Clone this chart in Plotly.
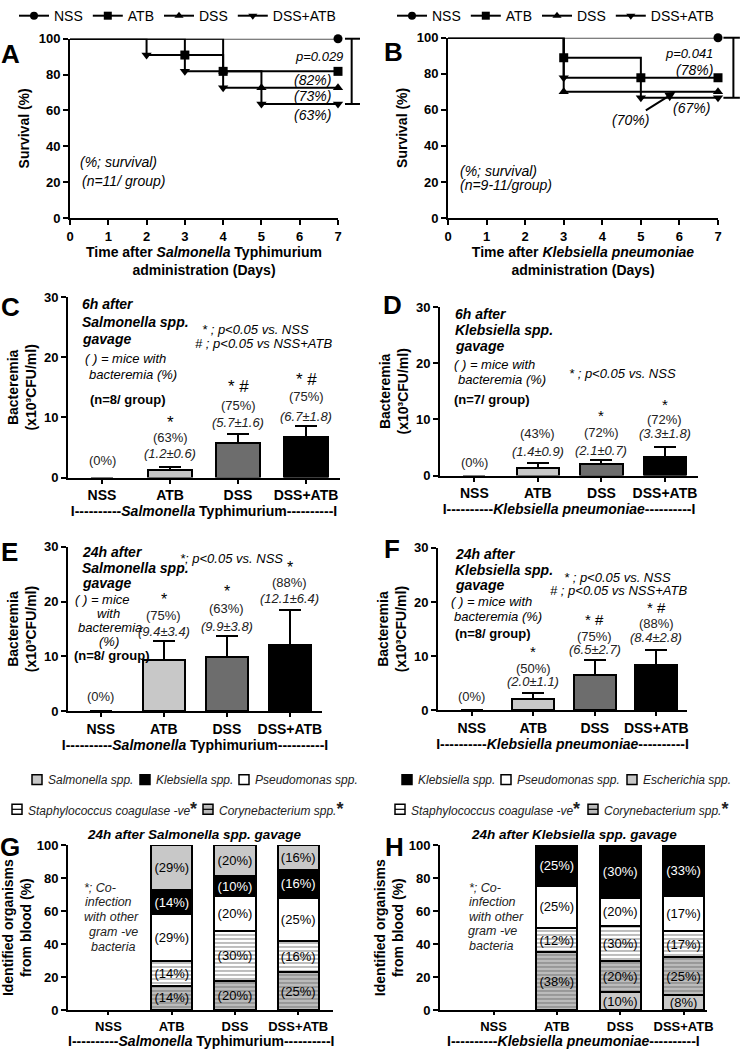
import plotly.graph_objects as go

W, H = 740, 1049
FONT = "Liberation Sans, Arial, Helvetica, sans-serif"

# ---------------- DATA ----------------
groups = ["NSS", "ATB", "DSS", "DSS+ATB"]

# A: survival after Salmonella Typhimurium (n = 11 / group)
A_NSS_day = [0, 7]
A_NSS_surv = [100, 100]
A_ATB_day = [0, 3, 4, 7]
A_ATB_surv = [100, 90.9, 81.8, 81.8]
A_DSS_day = [0, 4, 5, 7]
A_DSS_surv = [100, 81.8, 72.7, 72.7]
A_DA_day = [0, 2, 3, 4, 5, 7]
A_DA_surv = [100, 90.9, 81.8, 72.7, 63.6, 63.6]

# B: survival after Klebsiella pneumoniae (n = 9-11 / group)
B_NSS_day = [0, 7]
B_NSS_surv = [100, 100]
B_ATB_day = [0, 3, 5, 7]
B_ATB_surv = [100, 88.9, 77.8, 77.8]
B_DSS_day = [0, 3, 7]
B_DSS_surv = [100, 70.0, 70.0]
B_DA_day = [0, 3, 5, 7]
B_DA_surv = [100, 77.8, 66.7, 66.7]

# C-F: bacteremia (x10^3 CFU/ml), mean and SEM
C_mean = [0, 1.2, 5.7, 6.7]
C_sem = [0, 0.6, 1.6, 1.8]
C_pct = ["(0%)", "(63%)", "(75%)", "(75%)"]
C_sig = ["", "*", "* #", "* #"]

D_mean = [0, 1.4, 2.1, 3.3]
D_sem = [0, 0.9, 0.7, 1.8]
D_pct = ["(0%)", "(43%)", "(72%)", "(72%)"]
D_sig = ["", "", "*", "*"]

E_mean = [0, 9.4, 9.9, 12.1]
E_sem = [0, 3.4, 3.8, 6.4]
E_pct = ["(0%)", "(75%)", "(63%)", "(88%)"]
E_sig = ["", "*", "*", "*"]

F_mean = [0, 2.0, 6.5, 8.4]
F_sem = [0, 1.1, 2.7, 2.8]
F_pct = ["(0%)", "(50%)", "(75%)", "(88%)"]
F_sig = ["", "*", "* #", "* #"]

# G: identified organisms (%) after Salmonella gavage (bottom -> top)
G_coryne = [0, 15, 18, 23]
G_staph = [0, 15, 30, 19]
G_pseudo = [0, 28, 21, 26]
G_kleb = [0, 15, 12, 17]
G_salm = [0, 27, 19, 15]
G_coryne_lbl = [None, "(14%)", "(20%)", "(25%)"]
G_staph_lbl = [None, "(14%)", "(30%)", "(16%)"]
G_pseudo_lbl = [None, "(29%)", "(20%)", "(25%)"]
G_kleb_lbl = [None, "(14%)", "(10%)", "(16%)"]
G_salm_lbl = [None, "(29%)", "(20%)", "(16%)"]

# H: identified organisms (%) after Klebsiella gavage (bottom -> top)
H_esch = [0, 0, 11, 9]
H_coryne = [0, 35, 19, 23]
H_staph = [0, 15, 21, 16]
H_pseudo = [0, 25, 17, 21]
H_kleb = [0, 25, 32, 31]
H_esch_lbl = [None, None, "(10%)", "(8%)"]
H_coryne_lbl = [None, "(38%)", "(20%)", "(25%)"]
H_staph_lbl = [None, "(12%)", "(30%)", "(17%)"]
H_pseudo_lbl = [None, "(25%)", "(20%)", "(17%)"]
H_kleb_lbl = [None, "(25%)", "(30%)", "(33%)"]

# ---------------- LAYOUT CONSTANTS ----------------
geo = {1: (70, 338, 29, 210), 2: (448, 718, 28, 210), 3: (68, 340, 290, 472),
       4: (440, 698, 300, 470), 5: (68, 322, 542, 708), 6: (438, 687, 543, 707),
       7: (68, 333, 843, 1010), 8: (440, 707, 843, 1010)}
cat_range = {3: [-0.5, 3.5], 4: [-0.54, 3.52], 5: [-0.52, 3.51], 6: [-0.55, 3.5],
             7: [-0.64, 3.55], 8: [-0.845, 3.37]}
bar_w = {3: 0.66, 4: 0.67, 5: 0.67, 6: 0.68, 7: 0.65, 8: 0.65}
xtitle_standoff = {3: 2, 4: 2, 5: 1, 6: 1}

sym = {"NSS": "circle", "ATB": "square", "DSS": "triangle-up", "DSS+ATB": "triangle-down"}
bar_fill = ["white", "#c8c8c8", "#6d6d6d", "black"]

fig = go.Figure()


def axn(i, k):
    return k if i == 1 else f"{k}{i}"


def outline(vals):
    return [0 if v == 0 else 2 for v in vals]


# ---------- survival panels ----------
def km(days, surv, name, i, lcolor="black"):
    fig.add_trace(go.Scatter(x=days, y=surv, mode="lines",
                             line=dict(shape="hv", color=lcolor, width=2),
                             xaxis=axn(i, "x"), yaxis=axn(i, "y"),
                             showlegend=False, hoverinfo="skip", cliponaxis=False))
    fig.add_trace(go.Scatter(x=days[1:], y=surv[1:], mode="markers",
                             marker=dict(symbol=sym[name], size=9, color="black"),
                             xaxis=axn(i, "x"), yaxis=axn(i, "y"),
                             showlegend=False, cliponaxis=False))


km(A_NSS_day, A_NSS_surv, "NSS", 1, "#555555")
km(A_ATB_day, A_ATB_surv, "ATB", 1)
km(A_DSS_day, A_DSS_surv, "DSS", 1)
km(A_DA_day, A_DA_surv, "DSS+ATB", 1)
km(B_NSS_day, B_NSS_surv, "NSS", 2, "#555555")
km(B_ATB_day, B_ATB_surv, "ATB", 2)
km(B_DSS_day, B_DSS_surv, "DSS", 2)
km(B_DA_day, B_DA_surv, "DSS+ATB", 2)

for lg, i in (("legend", 1), ("legend2", 2)):
    for g in groups:
        fig.add_trace(go.Scatter(x=[None], y=[None], mode="lines+markers", name=g,
                                 marker=dict(symbol=sym[g], size=8, color="black"),
                                 line=dict(color="black", width=2),
                                 xaxis=axn(i, "x"), yaxis=axn(i, "y"), legend=lg))

# ---------- bacteremia bar panels ----------
for i, mean, sem in ((3, C_mean, C_sem), (4, D_mean, D_sem), (5, E_mean, E_sem), (6, F_mean, F_sem)):
    fig.add_trace(go.Bar(x=groups, y=mean, width=bar_w[i],
                         marker=dict(color=bar_fill, line=dict(color="black", width=outline(mean))),
                         error_y=dict(type="data", array=sem, arrayminus=[0] * len(sem), symmetric=False,
                                      color="black", thickness=2, width=11),
                         xaxis=axn(i, "x"), yaxis=axn(i, "y"), showlegend=False))

# ---------- stacked organism panels ----------
stripe_w = dict(shape="-", fgcolor="#222222", bgcolor="white", size=4, solidity=0.3)
stripe_g = dict(shape="-", fgcolor="#444444", bgcolor="#bcbcbc", size=4, solidity=0.3)
G_layers = [(G_coryne, G_coryne_lbl, "#bcbcbc", stripe_g, "black"),
            (G_staph, G_staph_lbl, "white", stripe_w, "black"),
            (G_pseudo, G_pseudo_lbl, "white", None, "black"),
            (G_kleb, G_kleb_lbl, "black", None, "white"),
            (G_salm, G_salm_lbl, "#c8c8c8", None, "black")]
H_layers = [(H_esch, H_esch_lbl, "#c8c8c8", None, "black"),
            (H_coryne, H_coryne_lbl, "#bcbcbc", stripe_g, "black"),
            (H_staph, H_staph_lbl, "white", stripe_w, "black"),
            (H_pseudo, H_pseudo_lbl, "white", None, "black"),
            (H_kleb, H_kleb_lbl, "black", None, "white")]
for i, layers in ((7, G_layers), (8, H_layers)):
    for vals, lbl, col, pat, tcol in layers:
        mk = dict(color=col, line=dict(color="black", width=outline(vals)))
        if pat:
            mk["pattern"] = pat
        fig.add_trace(go.Bar(x=groups, y=vals, width=bar_w[i], marker=mk, text=lbl,
                             textposition="inside", insidetextanchor="middle", constraintext="none",
                             textangle=0, textfont=dict(size=13, color=tcol, family=FONT),
                             xaxis=axn(i, "x"), yaxis=axn(i, "y"), showlegend=False))

# ---------- axes ----------
tickf = dict(family=FONT, size=13, color="black", weight="bold")
titf = dict(family=FONT, size=14, color="black", weight="bold")
base = dict(showline=True, linecolor="black", linewidth=2, ticks="outside", ticklen=5,
            tickwidth=2, tickcolor="black", showgrid=False, zeroline=False, tickfont=tickf,
            fixedrange=True, automargin=False)
lay = {}
for i, (x0, x1, yt, yb) in geo.items():
    xa = dict(base, domain=[x0 / W, x1 / W], anchor=axn(i, "y"))
    ya = dict(base, domain=[1 - yb / H, 1 - yt / H], anchor=axn(i, "x"))
    if i in (1, 2):
        xa.update(range=[0, 7], dtick=1, tick0=0)
        ya.update(range=[0, 100], dtick=20, title=dict(text="Survival (%)", font=titf, standoff=6))
    elif i in (3, 4, 5, 6):
        xa.update(type="category", range=cat_range[i], tickfont=dict(tickf, size=14), ticklen=4)
        ya.update(range=[0, 30], dtick=10,
                  title=dict(text="Bacteremia<br>(x10³CFU/ml)", font=titf, standoff=4))
    else:
        xa.update(type="category", range=cat_range[i], tickfont=dict(tickf, size=13), ticklen=3)
        ya.update(range=[0, 100], dtick=20,
                  title=dict(text="Identified organisms<br>from blood (%)", font=titf, standoff=2))
    lay[f"xaxis{'' if i == 1 else i}"] = xa
    lay[f"yaxis{'' if i == 1 else i}"] = ya

lay["xaxis"]["title"] = dict(text="Time after <i>Salmonella</i> Typhimurium<br>administration (Days)", font=titf, standoff=2)
lay["xaxis2"]["title"] = dict(text="Time after <i>Klebsiella pneumoniae</i><br>administration (Days)", font=titf, standoff=2)
sal_lbl = "I----------<i>Salmonella</i> Typhimurium----------I"
kle_lbl = "I----------<i>Klebsiella pneumoniae</i>----------I"
for i, t in ((3, sal_lbl), (4, kle_lbl), (5, sal_lbl), (6, kle_lbl)):
    lay[f"xaxis{i}"]["title"] = dict(text=t, font=titf, standoff=xtitle_standoff[i])

# ---------- annotations ----------
ann = []


def T(text, x, y, size=13, anchor="left", color="black", angle=0):
    ann.append(dict(text=text, x=x / W, y=1 - y / H, xref="paper", yref="paper", xanchor=anchor,
                    yanchor="middle", showarrow=False, textangle=angle,
                    font=dict(family=FONT, size=size, color=color)))


# group labels under panels G and H (placed in their x-axis domain)
for i, t in ((7, sal_lbl), (8, kle_lbl)):
    ann.append(dict(text=f"<b>{t}</b>", x=0.5, y=1 - 1041 / H, xref=f"x{i} domain", yref="paper",
                    xanchor="center", yanchor="middle", showarrow=False,
                    font=dict(family=FONT, size=14, color="black")))

# panel letters
for L, x, y in (("A", 10, 44), ("B", 393, 42), ("C", 10, 300), ("D", 392, 298),
                ("E", 9, 547), ("F", 392, 544), ("G", 10, 845), ("H", 394, 845)):
    T(f"<b>{L}</b>", x, y, 26, "center")

# A texts
T("<i>p=0.029</i>", 345, 47, 13, "right")
T("<i>(82%)</i>", 333, 71, 14, "right")
T("<i>(73%)</i>", 333, 87, 14, "right")
T("<i>(63%)</i>", 333, 106, 14, "right")
T("<i>(%; survival)</i>", 78, 153, 14)
T("<i>(n=11/ group)</i>", 80, 173, 14)
# B texts
T("<i>p=0.041</i>", 715, 44, 13, "right")
T("<i>(78%)</i>", 715, 61, 14, "right")
T("<i>(67%)</i>", 712, 99, 14, "right")
T("<i>(%; survival)</i>", 458, 163, 14)
T("<i>(n=9-11/group)</i>", 458, 177, 14)
ann.append(dict(text="<i>(70%)</i>", x=5.9, y=B_DSS_surv[-1], xref="x2", yref="y2", ax=-45, ay=28,
                showarrow=True, arrowhead=2, arrowsize=1, arrowwidth=2, arrowcolor="black",
                font=dict(family=FONT, size=14, color="black")))

# C texts
T("<b><i>6h after</i></b>", 80, 297, 14)
T("<b><i>Salmonella spp.</i></b>", 80, 315, 14)
T("<b><i>gavage</i></b>", 80, 332, 14)
T("<i>( ) = mice with</i>", 83, 352, 13)
T("<i>bacteremia (%)</i>", 87, 368, 13)
T("<b>(n=8/ group)</b>", 88, 393, 13)
T("<i>* ; p&lt;0.05 vs. NSS</i>", 200, 323, 13)
T("<i># ; p&lt;0.05 vs NSS+ATB</i>", 193, 337, 13)
# D texts
T("<b><i>6h after</i></b>", 453, 307, 14)
T("<b><i>Klebsiella spp.</i></b>", 453, 323, 14)
T("<b><i>gavage</i></b>", 453, 339, 14)
T("<i>( ) = mice with</i>", 452, 358, 13)
T("<i>bacteremia (%)</i>", 456, 373, 13)
T("<b>(n=7/ group)</b>", 452, 393, 13)
T("<i>* ; p&lt;0.05 vs. NSS</i>", 567, 367, 13)
# E texts
T("<b><i>24h after</i></b>", 80, 547, 14)
T("<b><i>Salmonella spp.</i></b>", 80, 563, 14)
T("<b><i>gavage</i></b>", 80, 579, 14)
T("<i>( ) = mice</i>", 102, 595, 13, "center")
T("<i>with</i>", 108, 609, 13, "center")
T("<i>bacteremia</i>", 110, 623, 13, "center")
T("<i>(%)</i>", 109, 638, 13, "center")
T("<b>(n=8/ group)</b>", 72, 652, 13)
T("<i>*; p&lt;0.05 vs. NSS</i>", 178, 554, 13)
# F texts
T("<b><i>24h after</i></b>", 453, 549, 14)
T("<b><i>Klebsiella spp.</i></b>", 453, 565, 14)
T("<b><i>gavage</i></b>", 453, 581, 14)
T("<i>( ) = mice with</i>", 449, 597, 13)
T("<i>bacteremia (%)</i>", 452, 612, 13)
T("<b>(n=8/ group)</b>", 453, 629, 13)
T("<i>* ; p&lt;0.05 vs. NSS</i>", 562, 573, 13)
T("<i># ; p&lt;0.05 vs NSS+ATB</i>", 548, 586, 13)

# labels above bars (data coordinates)
above = {3: (C_mean, C_sem, C_pct, C_sig, [None, 9.1, 15.2, 16.3], [2.8, 6.6, 12.0, 13.4], [None, 4.0, 9.1, 10.2], 17),
         4: (D_mean, D_sem, D_pct, D_sig, [None, None, 10.7, 12.7], [2.35, 7.5, 7.6, 10.0], [None, 4.2, 4.4, 7.4], 15),
         5: (E_mean, E_sem, E_pct, E_sig, [None, 20.4, 21.9, 26.2], [2.7, 17.4, 18.8, 23.5], [None, 14.6, 15.5, 20.6], 16),
         6: (F_mean, F_sem, F_pct, F_sig, [None, 10.8, 16.8, 19.0], [2.6, 7.7, 13.7, 16.1], [None, 5.3, 11.3, 13.5], 15)}
for i, (mean, sem, pct, sig, ys, yp, yv, ssz) in above.items():
    for k, g in enumerate(groups):
        common = dict(x=g, xref=axn(i, "x"), yref=axn(i, "y"), showarrow=False, yanchor="middle")
        if sig[k] and ys[k] is not None:
            ann.append(dict(common, y=ys[k], text=sig[k], font=dict(family=FONT, size=ssz, color="black")))
        ann.append(dict(common, y=yp[k], text=pct[k], font=dict(family=FONT, size=13, color="#222222")))
        if mean[k] > 0:
            ann.append(dict(common, y=yv[k], text=f"<i>({mean[k]:.1f}±{sem[k]:.1f})</i>",
                            font=dict(family=FONT, size=13, color="#222222")))

# G / H side notes and titles
for lines in (((100, 886, "*; Co-"), (108, 901, "infection"), (111, 916, "with other"),
               (113, 931, "gram -ve"), (113, 946, "bacteria")),
              ((485, 886, "*; Co-"), (492, 901, "infection"), (496, 916, "with other"),
               (492, 930, "gram -ve"), (491, 945, "bacteria"))):
    for x, y, t in lines:
        T(f"<i>{t}</i>", x, y, 12.5, "center", "#222222")
T("<b><i>24h after Salmonella spp. gavage</i></b>", 194, 832, 13.5, "center")
T("<b><i>24h after Klebsiella spp. gavage</i></b>", 574, 832, 13.5, "center")

# manual legends for G / H
shapes = []


def box(x, y, fill, striped, text):
    shapes.append(dict(type="rect", xref="paper", yref="paper", x0=x / W, x1=(x + 10) / W,
                       y0=1 - (y + 5) / H, y1=1 - (y - 5) / H, fillcolor=fill,
                       line=dict(color="black", width=1.5)))
    if striped:
        shapes.append(dict(type="line", xref="paper", yref="paper", x0=x / W, x1=(x + 10) / W,
                           y0=1 - y / H, y1=1 - y / H, line=dict(color="black", width=1.2)))
    T(text, x + 14, y, 12, "left", "#222222")


STAR = "<b><span style='font-size:18px'>*</span></b>"
box(32, 777, "#c8c8c8", False, "<i>Salmonella spp.</i>")
box(140, 777, "black", False, "<i>Klebsiella spp.</i>")
box(239, 777, "white", False, "<i>Pseudomonas spp.</i>")
box(12, 807, "white", True, "<i>Staphylococcus coagulase -ve</i>" + STAR)
box(203, 807, "#bcbcbc", True, "<i>Corynebacterium spp.</i>" + STAR)
box(402, 777, "black", False, "<i>Klebsiella spp.</i>")
box(501, 777, "white", False, "<i>Pseudomonas spp.</i>")
box(627, 777, "#c8c8c8", False, "<i>Escherichia spp.</i>")
box(395, 807, "white", True, "<i>Staphylococcus coagulase -ve</i>" + STAR)
box(588, 807, "#bcbcbc", True, "<i>Corynebacterium spp.</i>" + STAR)

# survival brackets (axis-domain coordinates, from final survival values)
for i, hi, lo, xv, xl, xr in ((1, A_NSS_surv[-1], A_DA_surv[-1], 1.051, 1.026, 1.082),
                              (2, B_NSS_surv[-1], B_DA_surv[-1], 1.057, 1.020, 1.081)):
    xr_, yr_ = f"{axn(i, 'x')} domain", f"{axn(i, 'y')} domain"
    ln = dict(color="black", width=2)
    shapes.append(dict(type="line", xref=xr_, yref=yr_, x0=xv, x1=xv, y0=lo / 100, y1=hi / 100, line=ln))
    shapes.append(dict(type="line", xref=xr_, yref=yr_, x0=xl, x1=xr, y0=hi / 100, y1=hi / 100, line=ln))
    shapes.append(dict(type="line", xref=xr_, yref=yr_, x0=xl, x1=xr, y0=lo / 100, y1=lo / 100, line=ln))

leg = dict(orientation="h", yanchor="top", xanchor="left", y=1 + 10 / H,
           font=dict(family=FONT, size=14, color="black"), bgcolor="rgba(0,0,0,0)",
           itemwidth=30, traceorder="normal")
fig.update_layout(
    width=W, height=H, margin=dict(l=0, r=0, t=0, b=0),
    paper_bgcolor="white", plot_bgcolor="white",
    font=dict(family=FONT, color="black", size=13),
    barmode="stack", bargap=0.3,
    legend=dict(leg, x=14 / W), legend2=dict(leg, x=392 / W),
    annotations=ann, shapes=shapes, **lay)

fig.write_html("out.html", config={"displayModeBar": False},
               post_script="document.body.style.margin='0';")
